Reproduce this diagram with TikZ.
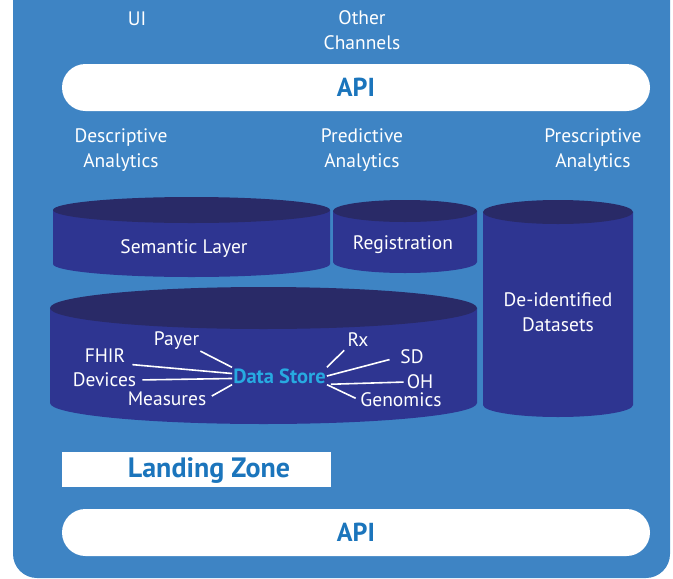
\documentclass[tikz,border=0pt]{standalone}
\usepackage{fontspec}
\setmainfont{PT Sans}
\usetikzlibrary{positioning,calc}
\definecolor{bgblue}{HTML}{3E84C4}
\definecolor{cylbody}{HTML}{2E3591}
\definecolor{cyltop}{HTML}{292A67}
\definecolor{apiblue}{HTML}{1B75BC}
\definecolor{dsblue}{HTML}{27AAE1}
\tikzset{
  chan/.style   = {text=white, align=center, font=\fontsize{19.5}{25}\selectfont},
  pill/.style   = {fill=white, rounded corners=23.5pt, minimum width=588pt,
                   minimum height=47pt, text=apiblue,
                   font=\fontsize{26}{28}\selectfont\bfseries},
  src/.style    = {text=white, inner sep=1pt, font=\fontsize{19.5}{20}\selectfont},
  store/.style  = {text=dsblue, inner sep=1pt, font=\fontsize{20.5}{22}\selectfont\bfseries},
  spoke/.style  = {draw=white, line width=1.6pt},
  lzbox/.style  = {fill=white, minimum width=269pt, minimum height=35pt},
  lztext/.style = {text=apiblue, font=\fontsize{28}{30}\selectfont\bfseries}
}
\newcommand{\dbcyl}[5]{%
  \fill[cylbody] (#1,#3) -- (#1,#4)
    arc[start angle=180, end angle=0, x radius={(#2-#1)/2}, y radius=#5]
    -- (#2,#3) -- cycle;
  \fill[cyltop] ({(#1+#2)/2},#3) ellipse [x radius={(#2-#1)/2}, y radius=#5];
}

\begin{document}
\begin{tikzpicture}[x=1pt,y=-1pt]
\useasboundingbox (0,0) rectangle (673,579);
\clip (0,0) rectangle (673,579);
\fill[bgblue, rounded corners=24pt] (13,-40) rectangle (670,578);

\node[chan] (ui) at (137,19) {UI};
\node[chan] (other) at (362,30) {Other\\Channels};
\node[pill] (apitop) at (356,87.5) {API};

\node[chan] (descr) at (121,150) {Descriptive\\Analytics};
\node[chan] (pred) at (362,150) {Predictive\\Analytics};
\node[chan] (prescr) at (593,150) {Prescriptive\\Analytics};

\dbcyl{53}{330}{210}{264}{13}
\dbcyl{333}{477}{211}{262}{11}
\dbcyl{483}{633}{212}{405}{12}
\dbcyl{50}{477}{308}{403}{21}

\node[chan] (semantic) at (184,249) {Semantic Layer};
\node[chan] (reg) at (403,245) {Registration};
\node[chan] (deid) at (558,312) {De-identified\\Datasets};

\node[store] (ds) at (279.5,376) {Data Store};
\node[src] (payer) at (176.5,341) {Payer};
\node[src] (fhir) at (105,356) {FHIR};
\node[src] (devices) at (104.5,380) {Devices};
\node[src] (measures) at (167,398.5) {Measures};
\node[src] (rx) at (358,340) {Rx};
\node[src] (sd) at (412,357) {SD};
\node[src] (oh) at (420,382) {OH};
\node[src] (genomics) at (401,400) {Genomics};

\draw[spoke] (payer.south east) -- (ds.north west);
\draw[spoke, shorten <=6pt] (fhir.south east) -- (ds.177);
\draw[spoke, shorten <=5pt] (devices.east) -- (ds.183);
\draw[spoke, shorten <=5pt] (measures.east) -- (ds.south west);
\draw[spoke, shorten <=3pt] (rx.south west) -- (ds.north east);
\draw[spoke, shorten <=10pt] (sd.west) -- (ds.east);
\draw[spoke, shorten <=4pt, shorten >=2pt] (ds.-10) -- (oh.west);
\draw[spoke, shorten >=4pt] (ds.south east) -- (genomics.west);

\node[lzbox] (lz) at (196.5,469.5) {};
\node[lztext] (lzlabel) at (209,471) {Landing Zone};
\node[pill] (apibot) at (356,532.5) {API};
\end{tikzpicture}
\end{document}
